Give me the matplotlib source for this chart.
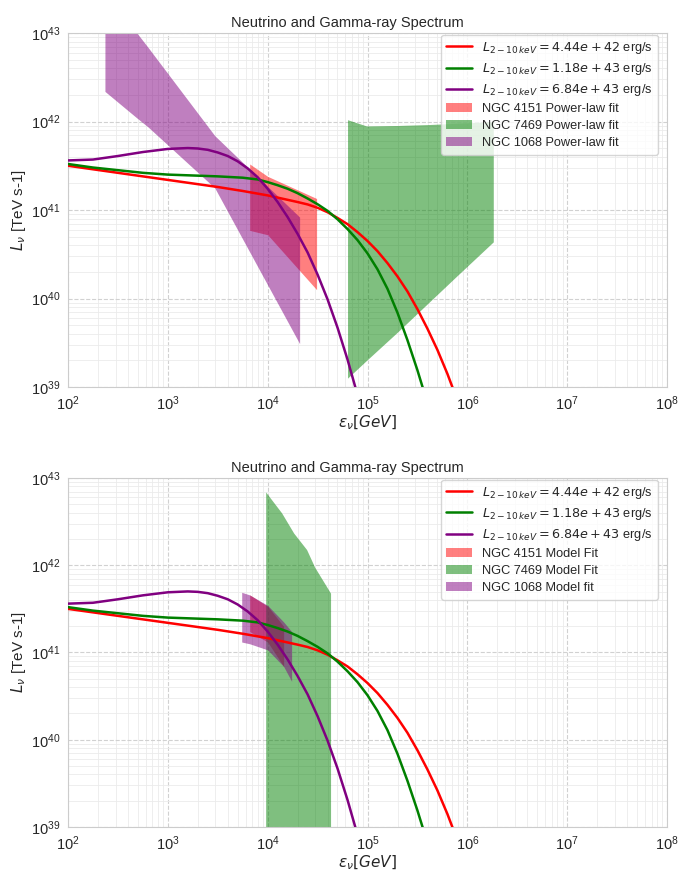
import numpy as np
import matplotlib
matplotlib.use("Agg")
import matplotlib.pyplot as plt
import seaborn as sns

sns.set_style("whitegrid")
plt.rcParams['font.family'] = ['Liberation Sans', 'DejaVu Sans']

# ---- model curves (log10 E [GeV], log10 L) ----
red_logx = [2.0, 2.25, 2.5, 2.75, 3.0, 3.25, 3.5, 3.75, 4.0, 4.1, 4.2, 4.3, 4.4, 4.5,
            4.6, 4.7, 4.8, 4.9, 5.0, 5.1, 5.2, 5.3, 5.4, 5.5, 5.6, 5.7, 5.8, 5.9]
red_logy = [41.50, 41.46, 41.42, 41.38, 41.34, 41.30, 41.26, 41.215, 41.165, 41.14,
            41.115, 41.09, 41.063, 41.025, 40.975, 40.91, 40.84, 40.75, 40.65, 40.535,
            40.40, 40.25, 40.08, 39.88, 39.66, 39.42, 39.15, 38.85]

green_logx = [2.0, 2.25, 2.5, 2.75, 3.0, 3.25, 3.5, 3.75, 3.9, 4.0, 4.1, 4.2, 4.3,
              4.4, 4.5, 4.6, 4.7, 4.8, 4.9, 5.0, 5.1, 5.2, 5.3, 5.4, 5.5, 5.6]
green_logy = [41.52, 41.48, 41.45, 41.42, 41.40, 41.39, 41.38, 41.365, 41.345, 41.315,
              41.28, 41.24, 41.19, 41.13, 41.065, 40.99, 40.895, 40.785, 40.66, 40.51,
              40.33, 40.11, 39.84, 39.53, 39.19, 38.82]

purple_logx = [2.0, 2.25, 2.5, 2.75, 3.0, 3.2, 3.3, 3.4, 3.5, 3.6, 3.7, 3.8, 3.9, 4.0,
               4.1, 4.2, 4.3, 4.4, 4.5, 4.6, 4.7, 4.8, 4.9]
purple_logy = [41.56, 41.57, 41.61, 41.655, 41.69, 41.70, 41.695, 41.68, 41.65, 41.61,
               41.55, 41.47, 41.37, 41.24, 41.09, 40.92, 40.73, 40.52, 40.27, 39.99,
               39.67, 39.31, 38.91]

curve_labels = [r'$L_{2-10\,keV} = 4.44e+42$ erg/s',
                r'$L_{2-10\,keV} = 1.18e+43$ erg/s',
                r'$L_{2-10\,keV} = 6.84e+43$ erg/s']

# ---- power-law fit bands (top panel) ----
pl4151_logx = [3.82, 4.00, 4.49]
pl4151_lo = [40.77, 40.72, 40.10]
pl4151_hi = [41.52, 41.38, 41.13]

pl7469_logx = [4.80, 4.99, 5.3, 5.6, 5.9, 6.26]
pl7469_lo = [39.10, 39.30, 39.62, 39.94, 40.26, 40.64]
pl7469_hi = [42.02, 41.95, 41.955, 41.965, 41.98, 42.00]

pl1068_logx = [2.37, 2.69, 2.80, 3.47, 4.32]
pl1068_lo = [42.34, 42.04, 41.94, 41.25, 39.49]
pl1068_hi = [43.48, 43.00, 42.84, 41.84, 40.92]

# ---- model fit bands (bottom panel) ----
m4151_logx = [3.82, 4.00, 4.16]
m4151_lo = [41.24, 41.12, 40.84]
m4151_hi = [41.66, 41.53, 41.30]

m7469_logx = [3.98, 4.14, 4.26, 4.39, 4.47, 4.63]
m7469_lo = [38.0, 38.0, 38.0, 38.0, 38.0, 38.0]
m7469_hi = [42.84, 42.60, 42.37, 42.18, 41.98, 41.68]

m1068_logx = [3.74, 3.82, 4.00, 4.16, 4.24]
m1068_lo = [41.12, 41.10, 41.03, 40.84, 40.67]
m1068_hi = [41.69, 41.66, 41.54, 41.35, 41.24]

band_labels_top = ['NGC 4151 Power-law fit', 'NGC 7469 Power-law fit', 'NGC 1068 Power-law fit']
band_labels_bot = ['NGC 4151 Model Fit', 'NGC 7469 Model Fit', 'NGC 1068 Model fit']

colors = ['red', 'green', 'purple']

def p(v):
    return 10 ** np.asarray(v, dtype=float)

fig = plt.figure(figsize=(6.87, 8.72), dpi=100)
ax1 = fig.add_axes([68/687, 1-387/872, 599/687, 354/872])
ax2 = fig.add_axes([68/687, 1-827/872, 599/687, 349/872])

curves = [(red_logx, red_logy), (green_logx, green_logy), (purple_logx, purple_logy)]
top_bands = [(pl4151_logx, pl4151_lo, pl4151_hi), (pl7469_logx, pl7469_lo, pl7469_hi),
             (pl1068_logx, pl1068_lo, pl1068_hi)]
bot_bands = [(m4151_logx, m4151_lo, m4151_hi), (m7469_logx, m7469_lo, m7469_hi),
             (m1068_logx, m1068_lo, m1068_hi)]

for ax, bands, blabels in [(ax1, top_bands, band_labels_top), (ax2, bot_bands, band_labels_bot)]:
    for (cx, cy), c, lab in zip(curves, colors, curve_labels):
        ax.plot(p(cx), p(cy), color=c, lw=1.8, label=lab, zorder=3,
                solid_joinstyle='round')
    for (bx, lo, hi), c, lab in zip(bands, colors, blabels):
        ax.fill_between(p(bx), p(lo), p(hi), color=c, alpha=0.5, lw=0, label=lab, zorder=2)
    ax.set_xscale('log')
    ax.set_yscale('log')
    ax.set_xlim(1e2, 1e8)
    ax.set_ylim(1e39, 1e43)
    ax.grid(True, which='major', ls='--', color='.82', lw=0.8)
    ax.grid(True, which='minor', ls='-', color='.92', lw=0.6)
    ax.set_axisbelow(True)
    ax.set_title('Neutrino and Gamma-ray Spectrum', fontsize=10.5, color='.15',
                 pad=4, x=0.466)
    ax.set_xlabel(r'$\epsilon_{\nu} [GeV]$', fontsize=11, color='.15', labelpad=0)
    ax.set_ylabel(r'$L_{\nu}$ [TeV s-1]', fontsize=11, color='.15', labelpad=2)
    ax.tick_params(axis='both', which='major', labelsize=10.5, colors='.15', pad=2)
    for s in ax.spines.values():
        s.set_color('.8')
    leg = ax.legend(loc='upper right', bbox_to_anchor=(0.985, 0.995), borderaxespad=0,
                    fontsize=9.2, frameon=True, labelspacing=0.4)

fig.savefig('out.png', dpi=100)
